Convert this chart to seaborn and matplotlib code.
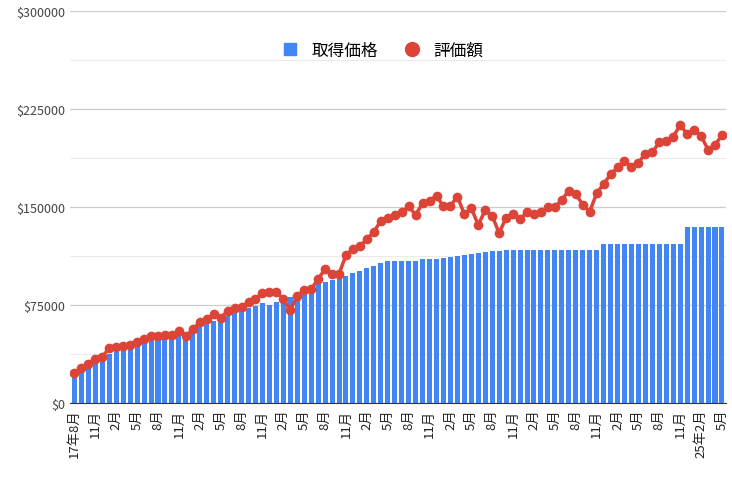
import matplotlib
matplotlib.use("Agg")
import matplotlib.pyplot as plt
import seaborn as sns
import pandas as pd
import numpy as np
from matplotlib.ticker import FuncFormatter, MultipleLocator

# 2017-08 .. 2025-05 (monthly)
months = pd.period_range("2017-08", "2025-05", freq="M")

cost = [21.4, 24.5, 27.5, 30.6, 32.4, 37.2, 39, 41.3, 42, 43.9, 45.7, 47.2, 48.5, 49, 49.5,
        52, 50.3, 53.3, 58.7, 60.5, 62.8, 63.8, 66.8, 68.6, 70.6, 72.4, 74.5, 76.3, 75.2, 77.5,
        79, 81.3, 84, 85.2, 89, 91.6, 93, 94.5, 95.4, 97.4, 99.2, 100.8, 103, 104.6, 107,
        108.5, 108.5, 108.5, 108.5, 108.5, 110, 110, 110, 110.7, 111.5, 112.5, 113.3, 114, 114.8,
        115.3, 116, 116, 116.8, 116.8, 116.8, 116.8, 116.8, 116.8, 116.8, 116.8, 116.8, 116.8,
        116.8, 116.8, 116.8, 116.8, 122, 122, 122, 122, 122, 122, 122, 122, 122, 122, 122, 122,
        135, 135, 135, 135, 135, 135]
value = [23, 27, 30, 34, 35.5, 42, 43, 44, 44.6, 46.4, 49, 51, 51, 52, 52, 55, 51, 56.6,
         61.7, 64, 68, 65, 70.6, 73, 73.7, 77, 80, 84, 84.7, 85, 79.6, 71, 82, 86.5, 87, 95,
         102.5, 98.7, 98.7, 113.3, 118, 120, 125.5, 131, 139.5, 141.5, 144, 146, 150.5, 144,
         153, 155, 158.6, 150.5, 151, 158, 144.6, 149, 136.4, 147.7, 143.3, 130, 142, 144.6,
         140.8, 146, 144.6, 146, 149.8, 150, 155.6, 162.5, 160, 151.8, 146.4, 160.5, 167.6,
         175, 180.4, 185.5, 180.4, 184, 191, 192, 199.5, 200.7, 204, 212.7, 206, 209, 204.5,
         194, 197.5, 205]

labels = []
for i, p in enumerate(months):
    if i == 0 or (p.year == 2025 and p.month == 2):
        labels.append(f"{p.year % 100}年{p.month}月")
    else:
        labels.append(f"{p.month}月")

df = pd.DataFrame({"idx": np.arange(len(months)), "cost": np.array(cost) * 1000,
                   "value": np.array(value) * 1000})

plt.rcParams["font.family"] = ["Noto Sans CJK JP"]
fig = plt.figure(figsize=(7.32, 4.85), dpi=100)
ax = fig.add_axes([0.096, 0.167, 0.896, 0.808])

blue, red = "#4285F4", "#DB4437"
sns.barplot(data=df, x="idx", y="cost", color=blue, width=0.72, ax=ax,
            label="取得価格", saturation=1, native_scale=True)
sns.lineplot(data=df, x="idx", y="value", color=red, lw=2.5, marker="o",
             markersize=7, markeredgewidth=0, ax=ax, label="評価額")

ax.set_xlim(-0.6, len(months) - 0.4)
ax.set_ylim(0, 300000)
ax.yaxis.set_major_locator(MultipleLocator(75000))
ax.yaxis.set_minor_locator(MultipleLocator(37500))
ax.yaxis.set_major_formatter(FuncFormatter(lambda v, _: f"${int(v)}"))
ax.grid(axis="y", which="major", color="#cccccc", lw=0.9)
ax.grid(axis="y", which="minor", color="#ebebeb", lw=0.8)
ax.set_axisbelow(True)
ticks = list(range(0, len(months), 3))
ax.set_xticks(ticks)
ax.set_xticklabels([labels[i] for i in ticks], rotation=90, fontsize=9.5, color="#222222", va="top")
ax.tick_params(axis="y", labelsize=9, colors="#444444", length=0, which="both")
ax.tick_params(axis="x", length=0, pad=4)
ax.set_xlabel(""); ax.set_ylabel("")
for s in ["top", "right", "left"]:
    ax.spines[s].set_visible(False)
ax.spines["bottom"].set_color("#333333")

from matplotlib.lines import Line2D
from matplotlib.patches import Patch
handles = [Line2D([], [], marker="s", color=blue, ls="", markersize=9),
           Line2D([], [], marker="o", color=red, ls="", markersize=10)]
ax.legend(handles, ["取得価格", "評価額"], loc="upper center", bbox_to_anchor=(0.47, 0.96),
          ncol=2, frameon=False, fontsize=12, handletextpad=0.3, columnspacing=1.0)

fig.savefig("out.png", dpi=100)
